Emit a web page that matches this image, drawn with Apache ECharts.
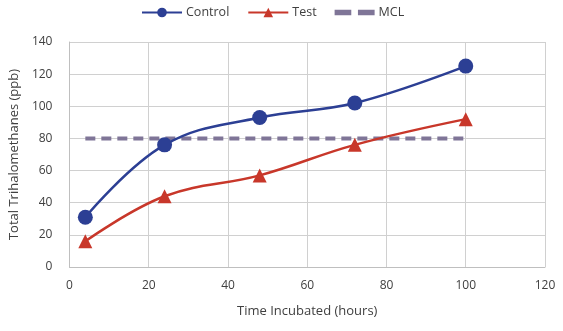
<!DOCTYPE html>
<html><head><meta charset="utf-8">
<script src="https://cdn.jsdelivr.net/npm/echarts@6/dist/echarts.min.js"></script>
<style>html,body{margin:0;padding:0;background:#fff}#c{width:563px;height:331px}</style>
</head><body><div id="c"></div>
<script>
const hours = [4, 24, 48, 72, 100];
const control = [31, 76, 93, 102, 125];
const test = [16, 44, 57, 76, 92];
const mclHours = [4, 100];
const mcl = [80, 80];
const xTicks = [0, 20, 40, 60, 80, 100, 120];
const yTicks = [0, 20, 40, 60, 80, 100, 120, 140];

const chart = echarts.init(document.getElementById('c'));
const font = 'Open Sans';
const mclIcon = 'path://M0,0H15V5H0Z M21,0H36V5H21Z';
chart.setOption({
  animation: false,
  legend: {
    top: 1, left: 136, itemGap: 18, itemWidth: 40, itemHeight: 12,
    textStyle: { fontFamily: font, fontSize: 12.5, color: '#404040', padding: [0, 0, 0, -1] },
    data: ['Control', 'Test', { name: 'MCL', icon: mclIcon, itemWidth: 36, itemStyle: { color: '#7f7597' } }]
  },
  grid: { left: 67, right: 18, top: 42, bottom: 64 },
  xAxis: {
    type: 'value', min: xTicks[0], max: xTicks[xTicks.length - 1], interval: 20,
    name: 'Time Incubated (hours)', nameLocation: 'middle', nameGap: 38,
    nameTextStyle: { fontFamily: font, fontSize: 13, color: '#404040' },
    axisLine: { show: true, lineStyle: { color: '#bfbfbf' } },
    axisTick: { show: false },
    axisLabel: { fontFamily: font, fontSize: 12, color: '#404040', margin: 13 },
    splitLine: { show: true, lineStyle: { color: '#d0d0d0' } }
  },
  yAxis: {
    type: 'value', min: yTicks[0], max: yTicks[yTicks.length - 1], interval: 20,
    name: 'Total Trihalomethanes (ppb)', nameLocation: 'middle', nameGap: 43,
    nameTextStyle: { fontFamily: font, fontSize: 13, color: '#404040' },
    axisLine: { show: true, lineStyle: { color: '#bfbfbf' } },
    axisTick: { show: false },
    axisLabel: { fontFamily: font, fontSize: 12, color: '#404040', margin: 17 },
    splitLine: { show: true, lineStyle: { color: '#d0d0d0' } }
  },
  series: [
    {
      name: 'MCL', type: 'line', z: 1,
      data: mclHours.map((h, i) => [h, mcl[i]]),
      symbol: 'none',
      lineStyle: { color: '#7f7597', width: 4, type: [10, 6] },
      itemStyle: { color: '#7f7597' }
    },
    {
      name: 'Control', type: 'line', smooth: 0.4, z: 3,
      data: hours.map((h, i) => [h, control[i]]),
      symbol: 'circle', symbolSize: 15,
      lineStyle: { color: '#2c3f94', width: 2.5 },
      itemStyle: { color: '#2c3f94' }
    },
    {
      name: 'Test', type: 'line', smooth: 0.4, z: 3,
      data: hours.map((h, i) => [h, test[i]]),
      symbol: 'triangle', symbolSize: 14,
      lineStyle: { color: '#c8372a', width: 2.5 },
      itemStyle: { color: '#c8372a' }
    }
  ]
});
</script></body></html>
